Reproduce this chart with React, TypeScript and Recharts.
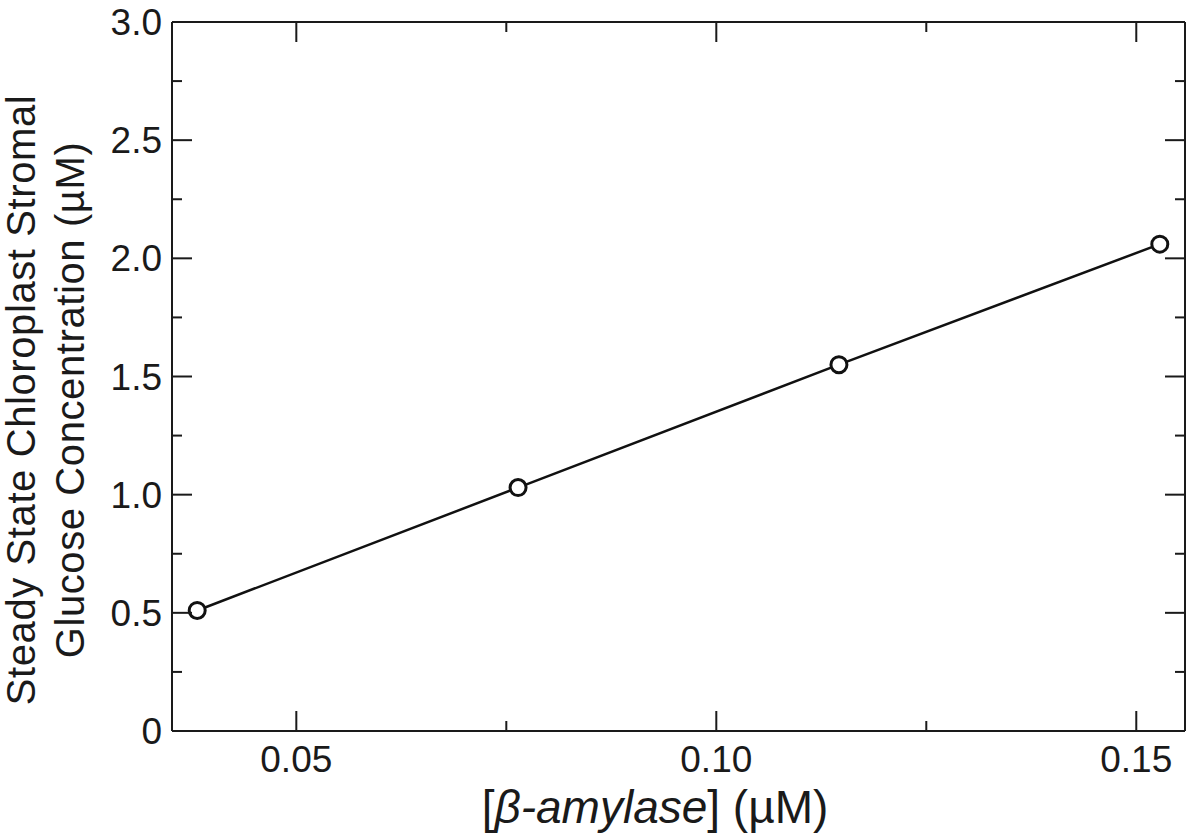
import React from "react";
import { ComposedChart, Line, XAxis, YAxis, Label } from "recharts";

// beta-amylase concentration (uM) vs steady state stromal glucose (uM)
const amylase = [0.0382, 0.0764, 0.1146, 0.1528];
const glucose = [0.51, 1.03, 1.55, 2.06];

const xMajorTicks = [0.05, 0.1, 0.15];
const xMinorTicks = [0.075, 0.125];
const yMajorTicks = [0, 0.5, 1.0, 1.5, 2.0, 2.5, 3.0];
const yMinorTicks = [0.25, 0.75, 1.25, 1.75, 2.25, 2.75];

const xDomain = [0.0352, 0.1558];
const yDomain = [0, 3];

const data = amylase.map((x, i) => ({ x, y: glucose[i] }));

const INK = "#1a1a1a";
const FONT = "'Liberation Sans', Arial, sans-serif";

const isMajor = (list: number[], v: number) => list.some((m) => Math.abs(m - v) < 1e-9);

const BottomTick = (props: any) => {
  const { x, y, payload } = props;
  const major = isMajor(xMajorTicks, payload.value);
  return (
    <g>
      <line x1={x} x2={x} y1={y} y2={y - (major ? 20 : 10)} stroke={INK} strokeWidth={2} />
      {major && (
        <text x={x} y={y + 41} textAnchor="middle" fontSize={37} fill={INK} fontFamily={FONT}>
          {payload.value.toFixed(2)}
        </text>
      )}
    </g>
  );
};

const TopTick = (props: any) => {
  const { x, y, payload } = props;
  const major = isMajor(xMajorTicks, payload.value);
  return <line x1={x} x2={x} y1={y} y2={y + (major ? 20 : 10)} stroke={INK} strokeWidth={2} />;
};

const LeftTick = (props: any) => {
  const { x, y, payload } = props;
  const major = isMajor(yMajorTicks, payload.value);
  return (
    <g>
      <line x1={x} x2={x + (major ? 20 : 10)} y1={y} y2={y} stroke={INK} strokeWidth={2} />
      {major && (
        <text x={x - 10} y={y + 13} textAnchor="end" fontSize={37} fill={INK} fontFamily={FONT}>
          {payload.value === 0 ? "0" : payload.value.toFixed(1)}
        </text>
      )}
    </g>
  );
};

const RightTick = (props: any) => {
  const { x, y, payload } = props;
  const major = isMajor(yMajorTicks, payload.value);
  return <line x1={x} x2={x - (major ? 20 : 10)} y1={y} y2={y} stroke={INK} strokeWidth={2} />;
};

const YTitle = () => (
  <g transform="translate(0, 400) rotate(-90)">
    <text textAnchor="middle" fontSize={40} fill={INK} fontFamily={FONT} letterSpacing={0.6}>
      <tspan x={0} y={35}>Steady State Chloroplast Stromal</tspan>
      <tspan x={0} y={84}>Glucose Concentration (µM)</tspan>
    </text>
  </g>
);

const XTitle = () => (
  <text x={655} y={823} textAnchor="middle" fontSize={46} fill={INK} fontFamily={FONT}>
    [<tspan fontStyle="italic">β-amylase</tspan>] (µM)
  </text>
);

const allX = [...xMajorTicks, ...xMinorTicks].sort((a, b) => a - b);
const allY = [...yMajorTicks, ...yMinorTicks].sort((a, b) => a - b);
const axisLine = { stroke: INK, strokeWidth: 2 };

export default function App() {
  return (
    <div style={{ position: "absolute", left: 0, top: 0, background: "#fff" }}>
      <ComposedChart width={1200} height={836} data={data} margin={{ top: 0, right: 0, bottom: 0, left: 0 }}>
        <XAxis
          xAxisId="bottom"
          dataKey="x"
          type="number"
          domain={xDomain}
          ticks={allX}
          interval={0}
          allowDataOverflow
          height={105}
          tickSize={0}
          tickMargin={0}
          tickLine={false}
          axisLine={axisLine}
          tick={<BottomTick />}
        >
          <Label content={<XTitle />} />
        </XAxis>
        <XAxis
          xAxisId="top"
          orientation="top"
          dataKey="x"
          type="number"
          domain={xDomain}
          ticks={allX}
          interval={0}
          allowDataOverflow
          height={22}
          tickSize={0}
          tickMargin={0}
          tickLine={false}
          axisLine={axisLine}
          tick={<TopTick />}
        />
        <YAxis
          yAxisId="left"
          type="number"
          domain={yDomain}
          ticks={allY}
          interval={0}
          allowDataOverflow
          width={172}
          tickSize={0}
          tickMargin={0}
          tickLine={false}
          axisLine={axisLine}
          tick={<LeftTick />}
        >
          <Label content={<YTitle />} />
        </YAxis>
        <YAxis
          yAxisId="right"
          orientation="right"
          type="number"
          domain={yDomain}
          ticks={allY}
          interval={0}
          allowDataOverflow
          width={15}
          tickSize={0}
          tickMargin={0}
          tickLine={false}
          axisLine={axisLine}
          tick={<RightTick />}
        />
        {/* invisible copy so the top/right frame axes get their scales */}
        <Line
          xAxisId="top"
          yAxisId="right"
          dataKey="y"
          stroke="none"
          dot={false}
          activeDot={false}
          legendType="none"
          isAnimationActive={false}
        />
        <Line
          xAxisId="bottom"
          yAxisId="left"
          dataKey="y"
          stroke="#111"
          strokeWidth={2.5}
          dot={{ r: 8, fill: "#fff", stroke: "#111", strokeWidth: 3 }}
          isAnimationActive={false}
        />
      </ComposedChart>
    </div>
  );
}
